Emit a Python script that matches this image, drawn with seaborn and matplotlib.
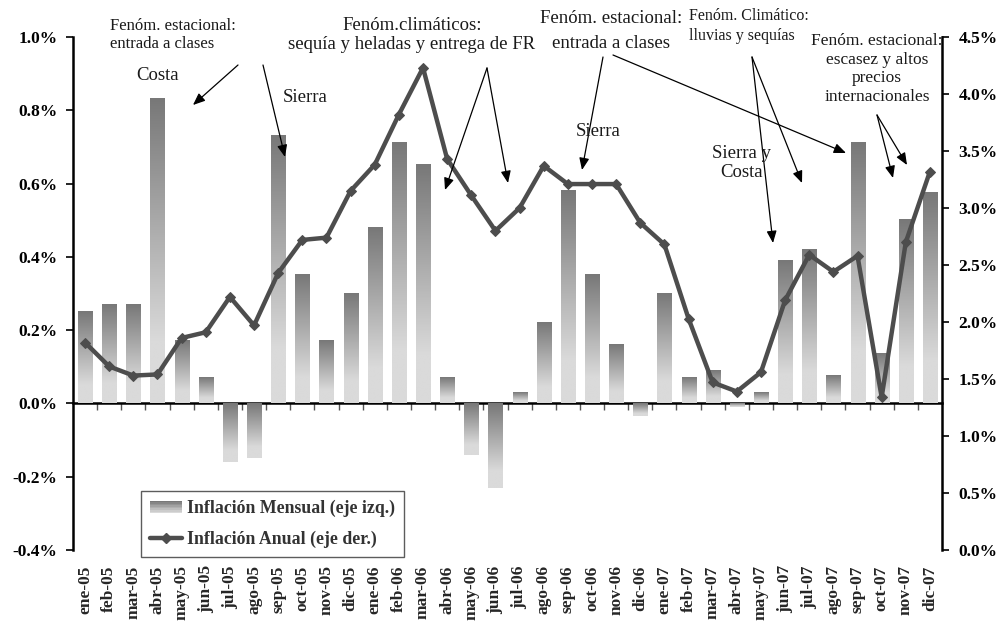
import numpy as np
import pandas as pd
import matplotlib
matplotlib.use("Agg")
import matplotlib.pyplot as plt
import seaborn as sns
from matplotlib.colors import LinearSegmentedColormap
from matplotlib.legend_handler import HandlerBase
from matplotlib.patches import Rectangle
from matplotlib.lines import Line2D

# ---------------- data ----------------
months = ["ene-05", "feb-05", "mar-05", "abr-05", "may-05", "jun-05", "jul-05", "ago-05",
          "sep-05", "oct-05", "nov-05", "dic-05", "ene-06", "feb-06", "mar-06", "abr-06",
          "may-06", "jun-06", "jul-06", "ago-06", "sep-06", "oct-06", "nov-06", "dic-06",
          "ene-07", "feb-07", "mar-07", "abr-07", "may-07", "jun-07", "jul-07", "ago-07",
          "sep-07", "oct-07", "nov-07", "dic-07"]
mensual = [0.25, 0.27, 0.27, 0.83, 0.17, 0.07, -0.16, -0.15,
           0.73, 0.35, 0.17, 0.30, 0.48, 0.71, 0.65, 0.07,
           -0.14, -0.23, 0.03, 0.22, 0.58, 0.35, 0.16, -0.035,
           0.30, 0.07, 0.09, -0.01, 0.03, 0.39, 0.42, 0.075,
           0.71, 0.135, 0.50, 0.575]
anual = [1.82, 1.61, 1.53, 1.54, 1.86, 1.91, 2.22, 1.97,
         2.43, 2.72, 2.74, 3.15, 3.38, 3.82, 4.23, 3.43,
         3.11, 2.80, 3.00, 3.37, 3.21, 3.21, 3.21, 2.87,
         2.68, 2.03, 1.47, 1.39, 1.56, 2.19, 2.59, 2.44,
         2.58, 1.34, 2.70, 3.32]
left_ticks = [-0.4, -0.2, 0.0, 0.2, 0.4, 0.6, 0.8, 1.0]
right_ticks = [0.0, 0.5, 1.0, 1.5, 2.0, 2.5, 3.0, 3.5, 4.0, 4.5]
label_bar = "Inflación Mensual (eje izq.)"
label_line = "Inflación Anual (eje der.)"

df = pd.DataFrame({"mes": months, "mensual": mensual, "anual": anual})
df["pos"] = np.arange(len(df))

# ---------------- style ----------------
sns.set_theme(style="white")
plt.rcParams["font.family"] = ["Liberation Serif", "DejaVu Serif"]

W, H = 1002, 623
fig = plt.figure(figsize=(W / 100, H / 100), dpi=100)


def fx(x):
    return x / W


def fy(y):
    return 1 - y / H


ax = fig.add_axes([fx(73), fy(550), (942 - 73) / W, (550 - 37) / H])

sns.barplot(data=df, x="mes", y="mensual", color="#999999", width=0.58,
            saturation=1, errorbar=None, ax=ax, zorder=2)

cmap = LinearSegmentedColormap.from_list("g", ["#787878", "#dadada"])
grad = np.clip(np.linspace(0, 1, 200) / 0.8, 0, 1).reshape(-1, 1)
for p in list(ax.patches):
    x0, y0, w, h = p.get_x(), p.get_y(), p.get_width(), p.get_height()
    top, bot = max(y0, y0 + h), min(y0, y0 + h)
    ax.imshow(grad, cmap=cmap, vmin=0, vmax=1, extent=(x0, x0 + w, bot, top),
              origin="upper", aspect="auto", zorder=2, interpolation="bilinear")
    p.set_visible(False)

ax.set_xlim(-0.5, len(months) - 0.5)
ax.set_ylim(-0.4, 1.0)
ax.set_yticks(left_ticks)
ax.set_yticklabels([f"{v:.1f}%" for v in left_ticks], fontsize=12.5, fontweight="bold")
ax.set_xticks(np.arange(len(months)))
ax.set_xticklabels(months, rotation=90, fontsize=12.5, fontweight="bold")
ax.tick_params(axis="x", bottom=True, length=0, pad=11)
ax.tick_params(axis="y", left=True, length=5, width=1.2, direction="out", pad=6, colors="black")
ax.set_xlabel("")
ax.set_ylabel("")
for s in ["top", "right", "bottom"]:
    ax.spines[s].set_visible(False)
ax.spines["left"].set_linewidth(1.8)
ax.spines["left"].set_color("black")

# zero line with category boundary ticks
sec = ax.secondary_xaxis(0.4 / 1.4)
sec.set_xticks(np.arange(0.5, len(months) - 1, 1))
sec.tick_params(axis="x", length=5, width=1, direction="out", labelbottom=False, colors="#555555")
sec.spines["bottom"].set_linewidth(1.8)
sec.spines["bottom"].set_color("black")

# line on right axis
ax2 = ax.twinx()
sns.lineplot(data=df, x="pos", y="anual", ax=ax2, color="#4d4d4d", linewidth=3.2,
             marker="D", markersize=5, markeredgecolor="#4d4d4d", sort=False, legend=False)
ax2.set_ylim(0, 4.5)
ax2.set_xlim(-0.5, len(months) - 0.5)
ax2.set_yticks(right_ticks)
ax2.set_yticklabels([f"{v:.1f}%" for v in right_ticks], fontsize=12.5, fontweight="bold")
ax2.tick_params(axis="y", right=True, length=5, width=1.2, direction="out", pad=7, colors="black")
ax2.set_ylabel("")
ax2.set_xlabel("")
for s in ["top", "left", "bottom"]:
    ax2.spines[s].set_visible(False)
ax2.spines["right"].set_linewidth(1.8)
ax2.spines["right"].set_color("black")


# legend with gradient handle
class GradHandler(HandlerBase):
    def create_artists(self, legend, orig, xd, yd, width, height, fontsize, trans):
        arts = []
        n = 8
        for i in range(n):
            c = cmap(i / (n - 1))
            r = Rectangle((xd, yd + height - (i + 1) * height / n), width, height / n,
                          facecolor=c, edgecolor="none", transform=trans)
            arts.append(r)
        return arts


bar_handle = Rectangle((0, 0), 1, 1)
line_handle = Line2D([], [], color="#4d4d4d", lw=3.2, marker="D", markersize=5)
leg = ax2.legend([bar_handle, line_handle], [label_bar, label_line],
                 handler_map={Rectangle: GradHandler()},
                 loc="upper left", bbox_to_anchor=(fx(141), fy(491)),
                 bbox_transform=fig.transFigure, borderaxespad=0, frameon=True,
                 fancybox=False, handlelength=1.8, handletextpad=0.3, borderpad=0.5,
                 labelspacing=0.75, prop={"size": 12.8, "weight": "bold"})
leg.get_frame().set_edgecolor("#333333")
leg.get_frame().set_linewidth(1.0)
for t in leg.get_texts():
    t.set_color("#333333")

# ---------------- annotations ----------------
tc = "#1a1a1a"
fig.text(fx(110), fy(35), "Fenóm. estacional:\nentrada a clases", ha="left", va="center",
         fontsize=12, color=tc, linespacing=1.2)
fig.text(fx(158), fy(76), "Costa", ha="center", va="center", fontsize=13.5, color=tc)
fig.text(fx(305), fy(98), "Sierra", ha="center", va="center", fontsize=13.5, color=tc)
fig.text(fx(412), fy(35), "Fenóm.climáticos:\nsequía y heladas y entrega de FR", ha="center",
         va="center", fontsize=13.5, color=tc, linespacing=1.2)
fig.text(fx(611), fy(31), "Fenóm. estacional:\nentrada a clases", ha="center", va="center",
         fontsize=13.5, color=tc, linespacing=1.65)
fig.text(fx(598), fy(131), "Sierra", ha="center", va="center", fontsize=13.5, color=tc)
fig.text(fx(689), fy(26), "Fenóm. Climático:\nlluvias y sequías", ha="left", va="center",
         fontsize=11.5, color=tc, linespacing=1.3)
fig.text(fx(742), fy(163), "Sierra y\nCosta", ha="center", va="center", fontsize=13.5,
         color=tc, linespacing=1.1)
fig.text(fx(877), fy(69), "Fenóm. estacional:\nescasez y altos\nprecios\ninternacionales",
         ha="center", va="center", fontsize=12.5, color=tc, linespacing=1.2)

arrows = [((238, 65), (193, 105)), ((263, 65), (285, 157)),
          ((487, 68), (445, 190)), ((487, 68), (508, 183)),
          ((603, 57), (582, 170)), ((613, 55), (846, 153)),
          ((752, 57), (773, 243)), ((752, 57), (802, 183)),
          ((877, 115), (893, 178)), ((877, 115), (907, 165))]
for (x0, y0), (x1, y1) in arrows:
    ax2.annotate("", xy=(fx(x1), fy(y1)), xycoords="figure fraction",
                 xytext=(fx(x0), fy(y0)), textcoords="figure fraction",
                 arrowprops=dict(arrowstyle="-|>,head_length=0.6,head_width=0.25",
                                 color="black", lw=0.9, mutation_scale=12,
                                 shrinkA=0, shrinkB=0),
                 annotation_clip=False)

fig.savefig("out.png", dpi=100)
